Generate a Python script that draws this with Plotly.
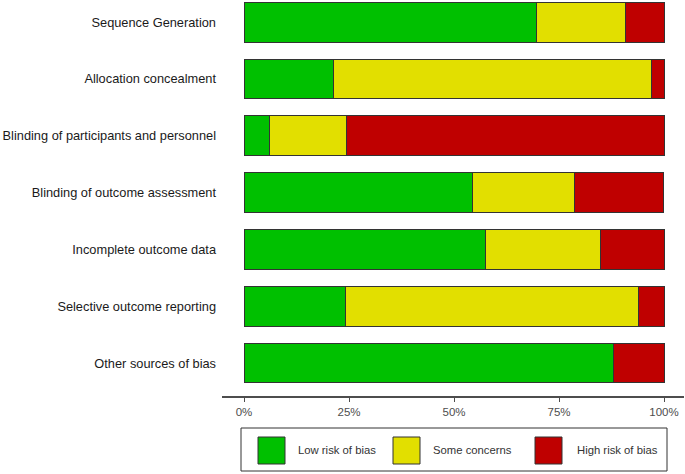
import plotly.graph_objects as go

domains = ["Sequence Generation", "Allocation concealment",
           "Blinding of participants and personnel", "Blinding of outcome assessment",
           "Incomplete outcome data", "Selective outcome reporting", "Other sources of bias"]
low_risk = [69.7, 21.2, 6.1, 54.5, 57.6, 24.2, 87.9]
some_concerns = [21.2, 75.8, 18.2, 24.2, 27.3, 69.7, 0.0]
high_risk = [9.1, 3.0, 75.7, 21.2, 15.2, 6.1, 12.1]
series_names = ["Low risk of bias", "Some concerns", "High risk of bias"]
series_colors = ["#00C000", "#E2DF00", "#BF0000"]
tick_vals = [0, 25, 50, 75, 100]
tick_text = ["0%", "25%", "50%", "75%", "100%"]

W, H = 685, 474
ML, MR, MT, MB = 222, 1, 0, 78
PW, PH = W - ML - MR, H - MT - MB

fig = go.Figure()
for name, vals, col in zip(series_names, [low_risk, some_concerns, high_risk], series_colors):
    fig.add_trace(go.Bar(
        y=domains, x=vals, name=name, orientation="h",
        marker=dict(color=col, line=dict(color="#333333", width=1)),
        width=0.7, showlegend=False, hoverinfo="x+y+name"))

def px_x(px):
    return (px - ML) / PW

def px_y(py):
    return (H - MB - py) / PH

shapes = [dict(type="rect", xref="paper", yref="paper",
               x0=px_x(241), x1=px_x(667), y0=px_y(471), y1=px_y(428),
               line=dict(color="#333333", width=1), fillcolor="white")]
annotations = []
sq_x = [258, 393, 535]
txt_x = [296, 431, 575]
for name, col, sx, tx in zip(series_names, series_colors, sq_x, txt_x):
    shapes.append(dict(type="rect", xref="paper", yref="paper",
                       x0=px_x(sx), x1=px_x(sx + 27), y0=px_y(464), y1=px_y(437),
                       line=dict(color="#333333", width=1), fillcolor=col))
    annotations.append(dict(xref="paper", yref="paper", x=px_x(tx), y=px_y(450.5),
                            text=name, showarrow=False, xanchor="left", yanchor="middle",
                            font=dict(family="Liberation Sans, Arial", size=11.3, color="#333333")))

fig.update_layout(
    width=W, height=H, barmode="stack", bargap=0.3,
    margin=dict(l=ML, r=MR, t=MT, b=MB, pad=0),
    paper_bgcolor="white", plot_bgcolor="white",
    font=dict(family="Liberation Sans, Arial", size=12, color="#333333"),
    xaxis=dict(range=[-5.24, 104.76], tickvals=tick_vals, ticktext=tick_text,
               showgrid=False, zeroline=False, showline=True, linecolor="#4D4D4D",
               linewidth=1.5, ticks="outside", ticklen=4, tickcolor="#4D4D4D",
               tickfont=dict(size=11.5, color="#4D4D4D")),
    yaxis=dict(categoryorder="array", categoryarray=domains,
               range=[6.58, -0.39], showgrid=False, zeroline=False, showline=False,
               ticks="", ticklabelstandoff=5,
               tickfont=dict(size=12.8, color="#1A1A1A")),
    shapes=shapes, annotations=annotations,
)
fig.write_html("out.html", config={"displayModeBar": False},
               post_script="document.body.style.margin='0';document.body.style.overflow='hidden';")
